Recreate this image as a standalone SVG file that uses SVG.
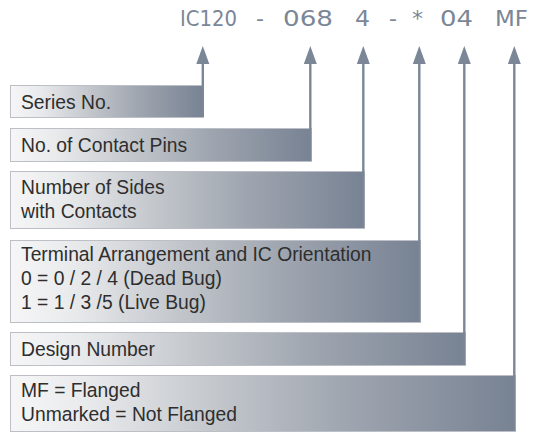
<svg xmlns="http://www.w3.org/2000/svg" width="536" height="435" viewBox="0 0 536 435">
<defs>
<linearGradient id="g" x1="0" y1="0" x2="1" y2="0">
<stop offset="0" stop-color="#f6f6f7"/>
<stop offset="0.15" stop-color="#e9eaec"/>
<stop offset="0.4" stop-color="#c4c8cd"/>
<stop offset="0.65" stop-color="#a1a7b1"/>
<stop offset="1" stop-color="#778293"/>
</linearGradient>
<marker id="arr" markerUnits="userSpaceOnUse" markerWidth="19" markerHeight="14" viewBox="0 0 19 14" refX="0" refY="7" orient="auto">
<path d="M0,0.5 L18,7 L0,13.5 z" fill="#7b8696"/>
</marker>
<style>
.box{fill:url(#g);stroke:#bcc0c6;stroke-width:1}
.lbl{font-family:"Liberation Sans",Arial,sans-serif;font-size:19.3px;fill:#2e2e2e}
.ttl{font-family:"DejaVu Sans",sans-serif;font-size:21px;fill:#7b8696}
.con{stroke:#7b8696;stroke-width:2.4;fill:none}
</style>
</defs>
<g id="title">
<text class="ttl" x="180" y="26" textLength="57" lengthAdjust="spacingAndGlyphs">IC120</text>
<text class="ttl" x="256" y="26" textLength="8" lengthAdjust="spacingAndGlyphs">-</text>
<text class="ttl" x="283" y="26" textLength="50" lengthAdjust="spacingAndGlyphs">068</text>
<text class="ttl" x="355" y="26" textLength="15" lengthAdjust="spacingAndGlyphs">4</text>
<text class="ttl" x="389" y="26" textLength="8" lengthAdjust="spacingAndGlyphs">-</text>
<text class="ttl" x="412" y="26" textLength="11" lengthAdjust="spacingAndGlyphs">*</text>
<text class="ttl" x="440" y="26" textLength="33" lengthAdjust="spacingAndGlyphs">04</text>
<text class="ttl" x="495" y="26" textLength="33" lengthAdjust="spacingAndGlyphs">MF</text>
</g>
<g id="series">
<rect class="box" x="10.5" y="85.5" width="193" height="32"/>
<text class="lbl" x="21" y="109">Series No.</text>
</g>
<g id="pins">
<rect class="box" x="10.5" y="128.5" width="301" height="33"/>
<text class="lbl" x="21" y="152">No. of Contact Pins</text>
</g>
<g id="sides">
<rect class="box" x="10.5" y="171.5" width="354" height="57"/>
<text class="lbl" x="21" y="194">Number of Sides</text>
<text class="lbl" x="21" y="218">with Contacts</text>
</g>
<g id="terminal">
<rect class="box" x="10.5" y="240.5" width="410" height="82"/>
<text class="lbl" x="21" y="261">Terminal Arrangement and IC Orientation</text>
<text class="lbl" x="21" y="285">0 = 0 / 2 / 4 (Dead Bug)</text>
<text class="lbl" x="21" y="309">1 = 1 / 3 /5 (Live Bug)</text>
</g>
<g id="design">
<rect class="box" x="10.5" y="332.5" width="455" height="33"/>
<text class="lbl" x="21" y="356">Design Number</text>
</g>
<g id="flange">
<rect class="box" x="10.5" y="375.5" width="505" height="56"/>
<text class="lbl" x="21" y="397">MF = Flanged</text>
<text class="lbl" x="21" y="421">Unmarked = Not Flanged</text>
</g>
<g id="connectors">
<path class="con" d="M202.8,117 V64" marker-end="url(#arr)"/>
<path class="con" d="M310.3,161 V64" marker-end="url(#arr)"/>
<path class="con" d="M363.3,228 V64" marker-end="url(#arr)"/>
<path class="con" d="M419.3,322 V64" marker-end="url(#arr)"/>
<path class="con" d="M464.3,365 V64" marker-end="url(#arr)"/>
<path class="con" d="M514.3,431 V64" marker-end="url(#arr)"/>
</g>
</svg>
